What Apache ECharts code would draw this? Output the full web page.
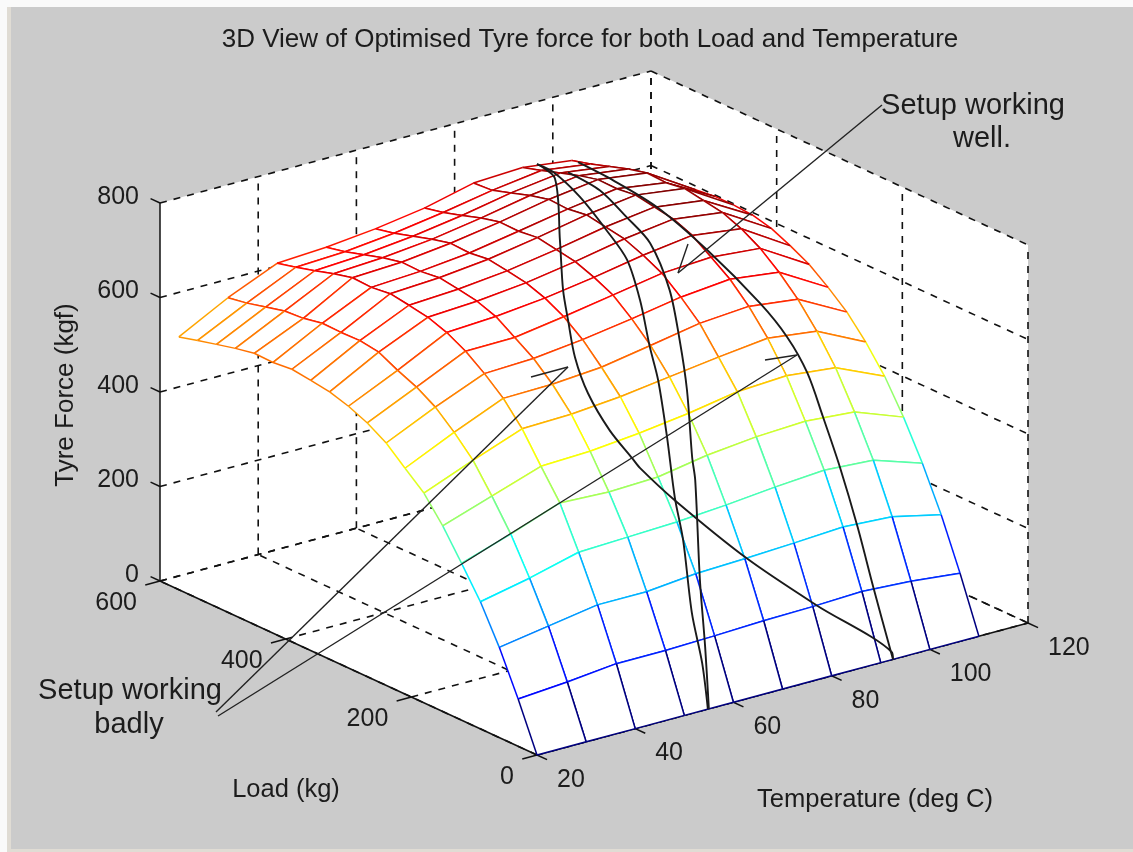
<!DOCTYPE html>
<html><head><meta charset="utf-8">
<style>html,body{margin:0;padding:0;background:#cbcbcb}#c{width:1133px;height:852px}</style>
<script src="https://cdn.jsdelivr.net/npm/echarts@6/dist/echarts.min.js"></script>
</head><body><div id="c"></div>
<script>
// ---- chart values ----
const temperatures = [20,30,40,50,60,70,80,90,100,110];
const loads = [0,30,60,90,120,150,180,210,240,270,300,330,360,390,420,450,480,510,540,570];
const force0  = [0,0,0,0,0,0,0,0,0,0];
const force1  = [100,108,119,119,122,126,128,132,126,115];
const force2  = [191,208,225,225,235,239,244,250,244,220];
const force3  = [269,291,318,322,326,334,344,352,345,311];
const force4  = [332,366,404,399,403,421,432,437,429,390];
const force5  = [393,428,463,467,477,491,509,515,504,458];
const force6  = [444,485,524,527,536,550,564,576,563,512];
const force7  = [478,526,570,572,580,598,617,625,612,557];
const force8  = [513,561,604,608,620,636,654,664,651,591];
const force9  = [537,585,633,634,650,668,686,692,683,621];
const force10 = [554,602,654,660,671,687,706,720,706,642];
const force11 = [566,622,668,674,685,702,722,736,722,660];
const force12 = [572,628,675,681,692,709,729,743,729,670];
const force13 = [577,627,681,687,698,716,736,750,736,673];
const force14 = [573,628,676,682,693,711,730,745,730,673];
const force15 = [574,620,678,683,695,712,732,746,732,668];
const force16 = [566,617,668,674,685,702,722,736,722,662];
const force17 = [556,607,656,662,673,689,709,723,709,654];
const force18 = [546,597,645,650,661,677,696,710,696,640];
const force19 = [535,590,635,641,652,668,693,698,685,624];
const forceRows = [force0,force1,force2,force3,force4,force5,force6,force7,force8,force9,force10,force11,force12,force13,force14,force15,force16,force17,force18,force19];

// setup curves: [temperature, load, force]
const setupA = [[92.5,0,0],[92.9,5,11],[81,32,127],[71.1,65,233],[60.9,100,363],[57,125,427],[56,130,448],[54,150,500],[54.7,190,552],[55.9,220,606],[59.6,260,650],[63.7,300,678],[73.3,380,707],[88.9,510,715],[92.3,565,702]];
const setupB = [[54.8,0,0],[56.2,20,81],[57.3,45,169],[60,80,294],[61.5,105,365],[64.4,140,463],[67.7,180,550],[69.2,205,601],[73.6,255,657],[78,310,696],[80.9,365,716],[85,440,730],[89.8,520,720],[92.3,565,702]];
const setupC = [[55,0,0],[57.7,27,107],[60.6,58,222],[66.3,110,385],[67.6,125,420],[72.3,170,522],[75.3,205,597],[80,258,659],[84,320,708],[85.6,370,728],[87.8,430,742],[90.3,500,730]];
const setupD = [[92.5,0,0],[94,43,122],[94,68,234],[94,96,343],[94,123,433],[94,148,511],[94,180,567],[94,223,612],[94,307,673],[94,387,715],[94,457,729],[94,513,733]];

const tempTicks = [20,40,60,80,100,120];
const loadTicks = [0,200,400,600];
const forceTicks = [0,200,400,600,800];
const titleText = '3D View of Optimised Tyre force for both Load and Temperature';

// ---- projection of the 3D box onto the hidden 2D plane ----
const tMin=20,tMax=120,lMin=0,lMax=600,fMin=0,fMax=800,cMax=750;
const origin=[537,755], tVec=[491,-132], lVec=[-377,-174], fLen=378;
function project(t,l,f){
  const a=(t-tMin)/(tMax-tMin), b=(l-lMin)/(lMax-lMin), c=(f-fMin)/(fMax-fMin);
  return [origin[0]+a*tVec[0]+b*lVec[0], origin[1]+a*tVec[1]+b*lVec[1]-c*fLen];
}
function jet(v){
  const x=Math.max(0,Math.min(1,v/cMax));
  const r=Math.max(0,Math.min(1,Math.min(4*x-1.5,-4*x+4.5)));
  const g=Math.max(0,Math.min(1,Math.min(4*x-0.5,-4*x+3.5)));
  const b=Math.max(0,Math.min(1,Math.min(4*x+0.5,-4*x+2.5)));
  return 'rgb('+Math.round(r*255)+','+Math.round(g*255)+','+Math.round(b*255)+')';
}
const INK='#1c1c1c', FAMILY='"Liberation Sans", Arial, sans-serif', FONT='25px '+FAMILY;

// ---- surface cells, far corner first so nearer cells hide them ----
const cells=[];
for(let i=loads.length-2;i>=0;i--) for(let j=temperatures.length-2;j>=0;j--) cells.push([i,j]);
function renderCell(params,api){
  const [i,j]=cells[params.dataIndex];
  const P=(a,b)=>api.coord(project(temperatures[b],loads[a],forceRows[a][b]));
  const p00=P(i,j),p01=P(i,j+1),p10=P(i+1,j),p11=P(i+1,j+1);
  const seg=(a,b,v)=>({type:'line',shape:{x1:a[0],y1:a[1],x2:b[0],y2:b[1]},style:{stroke:jet(v),lineWidth:1.5,fill:null}});
  return {type:'group',children:[
    {type:'polygon',shape:{points:[p00,p01,p11,p10]},style:{fill:'#fff',stroke:null}},
    seg(p10,p11,forceRows[i+1][j]),
    seg(p01,p11,forceRows[i][j+1]),
    seg(p00,p01,forceRows[i][j]),
    seg(p00,p10,forceRows[i][j])
  ]};
}

// ---- box, grid and ticks ----
const dashed=[], solid=[], labels=[];
const tA=tMin,tB=tMax,lB=lMax,fB=fMax;
tempTicks.forEach(t=>{
  dashed.push([[t,0,0],[t,lB,0]]);
  if(t>tMin) dashed.push([[t,lB,0],[t,lB,fB]]);
  solid.push([[t,0,0],[t,-16,0]]);
  labels.push({at:[t,0,0],dx:20,dy:25,text:String(t),align:'left'});
});
loadTicks.forEach(l=>{
  dashed.push([[tA,l,0],[tB,l,0]]);
  if(l<lB) dashed.push([[tB,l,0],[tB,l,fB]]);
  solid.push([[tA,l,0],[tA-3,l,0]]);
  labels.push({at:[tA,l,0],dx:-23,dy:22,text:String(l),align:'right'});
});
forceTicks.forEach(f=>{
  dashed.push([[tA,lB,f],[tB,lB,f]]);
  dashed.push([[tB,lB,f],[tB,0,f]]);
  solid.push([[tA,lB,f],[tA,lB+15,f]]);
  labels.push({at:[tA,lB,f],dx:-21,dy:-6,text:String(f),align:'right'});
});
dashed.push([[tB,lB,0],[tB,lB,fB]]);
solid.push([[tA,lB,0],[tA,lB,fB]],[[tA,0,0],[tA,lB,0]],[[tA,0,0],[tB,0,0]]);

function seriesOf(list,render,z){
  return {type:'custom',coordinateSystem:'cartesian2d',silent:true,clip:false,z:z,progressive:0,animation:false,
    encode:{x:0,y:1},data:list.map(()=>[0,0]),renderItem:render};
}
const lineRender=(list,dash,w)=>(params,api)=>{
  const s=list[params.dataIndex];
  const a=api.coord(project(...s[0])), b=api.coord(project(...s[1]));
  return {type:'line',shape:{x1:a[0],y1:a[1],x2:b[0],y2:b[1]},style:{stroke:'#111',lineWidth:w,lineDash:dash||null,fill:null}};
};
const facePts=[[tA,lB,fB],[tB,lB,fB],[tB,0,fB],[tB,0,0],[tA,0,0],[tA,lB,0]];
const curveSeries=[setupA,setupB,setupC,setupD].map((c,k)=>({
  type:'line',name:'setup'+k,data:c.map(p=>project(p[0],p[1],p[2])),showSymbol:false,silent:true,smooth:0.3,z:6,
  lineStyle:{color:'#1a1a1a',width:1.9},animation:false,clip:false}));

// ---- annotation leaders (page pixels) ----
const leaderLines=[
  [[882,105],[678,273]],[[678,273],[688,244]],
  [[216,712],[568,367]],[[568,367],[531,377]],
  [[218,716],[797,355]],[[797,355],[765,360]]
];
const pageTexts=[
  {t:titleText,x:590,y:40,rot:0,size:26},
  {t:'Tyre Force (kgf)',x:66,y:395,rot:90,size:26},
  {t:'Load (kg)',x:286,y:790,rot:0,size:25.5},
  {t:'Temperature (deg C)',x:875,y:800,rot:0,size:25.6},
  {t:'Setup working',x:973,y:106,rot:0,size:29},
  {t:'well.',x:982,y:139,rot:0,size:29},
  {t:'Setup working',x:130,y:691,rot:0,size:29},
  {t:'badly',x:129,y:725,rot:0,size:29}
];
const edges=[{x:0,y:0,w:1133,h:7,c:'#fafafa'},{x:0,y:0,w:7,h:852,c:'#fafafa'},{x:7,y:7,w:4,h:845,c:'#e0dcd4'},{x:7,y:849,w:1126,h:3,c:'#e0dcd4'}];

const chart=echarts.init(document.getElementById('c'),null,{width:1133,height:852});
chart.setOption({
  backgroundColor:'#cbcbcb',animation:false,
  grid:{left:0,right:0,top:0,bottom:0,containLabel:false},
  xAxis:{type:'value',min:0,max:1133,show:false},
  yAxis:{type:'value',min:0,max:852,inverse:true,show:false},
  series:[
    seriesOf([0],(params,api)=>({type:'polygon',shape:{points:facePts.map(p=>api.coord(project(...p)))},style:{fill:'#fff',stroke:null}}),1),
    seriesOf(dashed,lineRender(dashed,[7,7],1.6),2),
    seriesOf(solid,lineRender(solid,null,1.5),3),
    seriesOf(cells,renderCell,4),
    seriesOf(labels,(params,api)=>{
      const d=labels[params.dataIndex], p=api.coord(project(...d.at));
      return {type:'text',style:{x:p[0]+d.dx,y:p[1]+d.dy,text:d.text,fill:INK,font:FONT,align:d.align,verticalAlign:'middle'}};
    },5),
    ...curveSeries
  ],
  graphic:{elements:[
    ...edges.map(e=>({type:'rect',shape:{x:e.x,y:e.y,width:e.w,height:e.h},style:{fill:e.c},z:0,silent:true})),
    ...leaderLines.map(s=>({type:'line',shape:{x1:s[0][0],y1:s[0][1],x2:s[1][0],y2:s[1][1]},style:{stroke:'#222',lineWidth:1.4},z:20,silent:true})),
    ...pageTexts.map(t=>({type:'text',x:t.x,y:t.y,rotation:t.rot*Math.PI/180,style:{text:t.t,fill:INK,font:t.size+'px '+FAMILY,align:'center',verticalAlign:'middle'},z:21,silent:true}))
  ]}
});
</script></body></html>
